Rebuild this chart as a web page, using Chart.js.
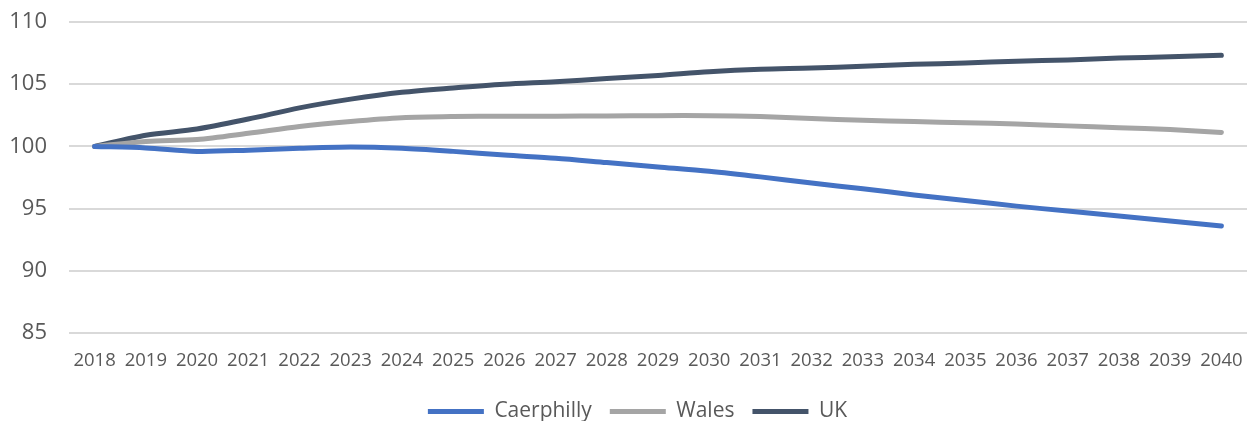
<!DOCTYPE html>
<html>
<head>
<meta charset="utf-8">
<script src="https://cdn.jsdelivr.net/npm/chart.js@4.4.1/dist/chart.umd.min.js"></script>
<style>
  html, body { margin: 0; padding: 0; background: #fff; }
  #chart { display: block; }
</style>
</head>
<body>
<canvas id="chart" width="1255" height="421"></canvas>
<script>
const years = ['2018', '2019', '2020', '2021', '2022', '2023', '2024', '2025', '2026', '2027', '2028',
    '2029', '2030', '2031', '2032', '2033', '2034', '2035', '2036', '2037', '2038', '2039', '2040'];

const caerphilly = [100, 99.88, 99.6, 99.7, 99.85, 99.95, 99.85, 99.6, 99.3, 99.05, 98.7,
    98.35, 98.0, 97.55, 97.05, 96.6, 96.1, 95.65, 95.2, 94.8, 94.4, 94.0, 93.6];

const wales = [100, 100.4, 100.55, 101.05, 101.6, 102.0, 102.3, 102.4, 102.42, 102.42, 102.45,
    102.47, 102.47, 102.4, 102.25, 102.1, 102.0, 101.9, 101.8, 101.65, 101.5, 101.35, 101.12];

const uk = [100, 100.9, 101.4, 102.2, 103.1, 103.8, 104.35, 104.7, 105.0, 105.2, 105.45,
    105.7, 106.0, 106.2, 106.3, 106.45, 106.6, 106.7, 106.85, 106.95, 107.1, 107.2, 107.33];

const yTicks = [85, 90, 95, 100, 105, 110];

const textColor = '#595959';
const fontFamily = "'Open Sans', 'Noto Sans', sans-serif";

function lineSet(label, data, color) {
    return {
        label: label,
        data: data,
        borderColor: color,
        backgroundColor: color,
        borderWidth: 5,
        borderCapStyle: 'round',
        borderJoinStyle: 'round',
        pointRadius: 0,
        pointHoverRadius: 0,
        pointStyle: 'line',
        tension: 0.3,
        fill: false
    };
}

// nudge the legend a bit right so it sits where the original one does
const shiftLegend = {
    id: 'shiftLegend',
    afterLayout(chart) {
        chart.legend.left += 14;
        chart.legend.right += 14;
    }
};

const ctx = document.getElementById('chart').getContext('2d');
new Chart(ctx, {
    type: 'line',
    data: {
        labels: years,
        datasets: [
            lineSet('Caerphilly', caerphilly, '#4472C4'),
            lineSet('Wales', wales, '#A5A5A5'),
            lineSet('UK', uk, '#44546A')
        ]
    },
    options: {
        responsive: false,
        animation: false,
        layout: {padding: {left: 0, right: 8, top: 22, bottom: -11}},
        plugins: {
            tooltip: {enabled: false},
            legend: {
                position: 'bottom',
                labels: {
                    usePointStyle: true,
                    pointStyleWidth: 56,
                    boxHeight: 10,
                    padding: 18,
                    color: textColor,
                    font: {family: fontFamily, size: 21}
                }
            }
        },
        scales: {
            x: {
                offset: true,
                grid: {display: false},
                border: {display: false},
                afterFit: function(scale) { scale.height = 50; },
                ticks: {
                    color: textColor,
                    font: {family: fontFamily, size: 18.5},
                    maxRotation: 0,
                    autoSkip: false,
                    padding: 9
                }
            },
            y: {
                min: 85,
                max: 110,
                afterFit: function(scale) {
                    scale.width = 69;
                    scale.paddingTop = 0;
                    scale.paddingBottom = 0;
                },
                afterBuildTicks: function(scale) {
                    scale.ticks = yTicks.map(v => ({value: v}));
                },
                grid: {color: '#D9D9D9', lineWidth: 2, drawTicks: false},
                border: {display: false},
                ticks: {
                    color: textColor,
                    font: {family: fontFamily, size: 22},
                    padding: 22
                }
            }
        }
    },
    plugins: [shiftLegend]
});
</script>
</body>
</html>
